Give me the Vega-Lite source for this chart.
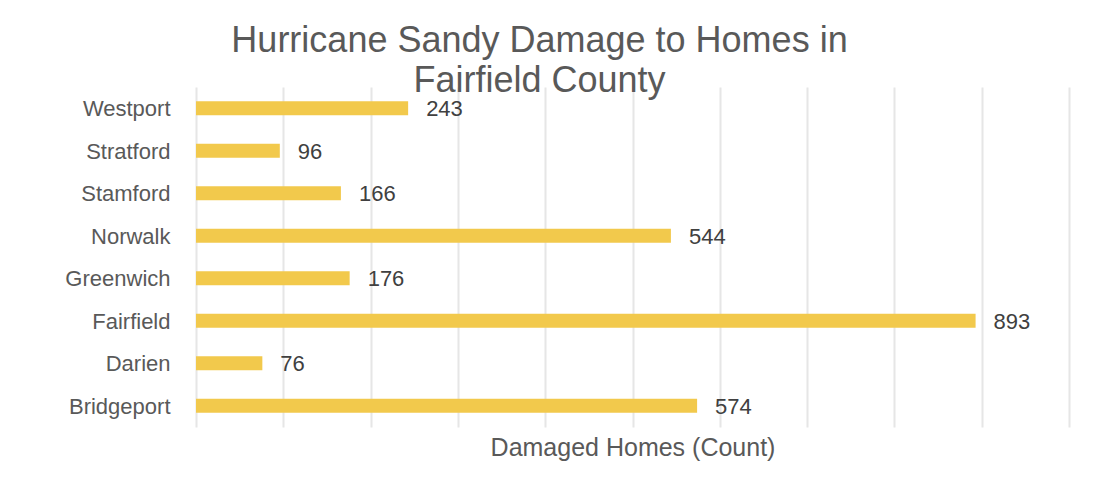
{
  "$schema": "https://vega.github.io/schema/vega-lite/v6.json",
  "autosize": {"type": "none"},
  "padding": {"left": 196, "top": 87, "right": 43, "bottom": 53},
  "width": 873,
  "height": 340,
  "background": "white",
  "title": {
    "text": ["Hurricane Sandy Damage to Homes in", "Fairfield County"],
    "anchor": "middle",
    "frame": "group",
    "dx": -93,
    "fontSize": 36,
    "lineHeight": 40,
    "font": "Liberation Sans",
    "fontWeight": "normal",
    "color": "#595959",
    "offset": -13
  },
  "config": {
    "view": {"stroke": null},
    "font": "Liberation Sans"
  },
  "data": {
    "values": [
      {"town": "Westport", "homes": 243},
      {"town": "Stratford", "homes": 96},
      {"town": "Stamford", "homes": 166},
      {"town": "Norwalk", "homes": 544},
      {"town": "Greenwich", "homes": 176},
      {"town": "Fairfield", "homes": 893},
      {"town": "Darien", "homes": 76},
      {"town": "Bridgeport", "homes": 574}
    ]
  },
  "encoding": {
    "y": {
      "field": "town",
      "type": "nominal",
      "sort": "descending",
      "scale": {"paddingInner": 0, "paddingOuter": 0},
      "axis": {
        "title": null,
        "domain": false,
        "ticks": false,
        "labelPadding": 26,
        "labelFontSize": 22,
        "labelColor": "#595959",
        "labelFont": "Liberation Sans",
        "labelBaseline": "middle",
        "labelOffset": 1
      }
    },
    "x": {
      "field": "homes",
      "type": "quantitative",
      "scale": {"domain": [0, 1000], "nice": false},
      "axis": {
        "title": "Damaged Homes (Count)",
        "values": [0, 100, 200, 300, 400, 500, 600, 700, 800, 900, 1000],
        "labels": false,
        "ticks": false,
        "domain": false,
        "grid": true,
        "gridColor": "#e6e6e6",
        "gridWidth": 2,
        "titleFontSize": 25,
        "titleFontWeight": "normal",
        "titleColor": "#595959",
        "titlePadding": 8,
        "titleFont": "Liberation Sans"
      }
    }
  },
  "layer": [
    {
      "mark": {"type": "bar", "size": 14, "color": "#F2C94C"}
    },
    {
      "mark": {
        "type": "text",
        "align": "left",
        "baseline": "middle",
        "dx": 18,
        "dy": 1,
        "fontSize": 22,
        "color": "#404040",
        "font": "Liberation Sans"
      },
      "encoding": {"text": {"field": "homes", "type": "quantitative"}}
    }
  ]
}
